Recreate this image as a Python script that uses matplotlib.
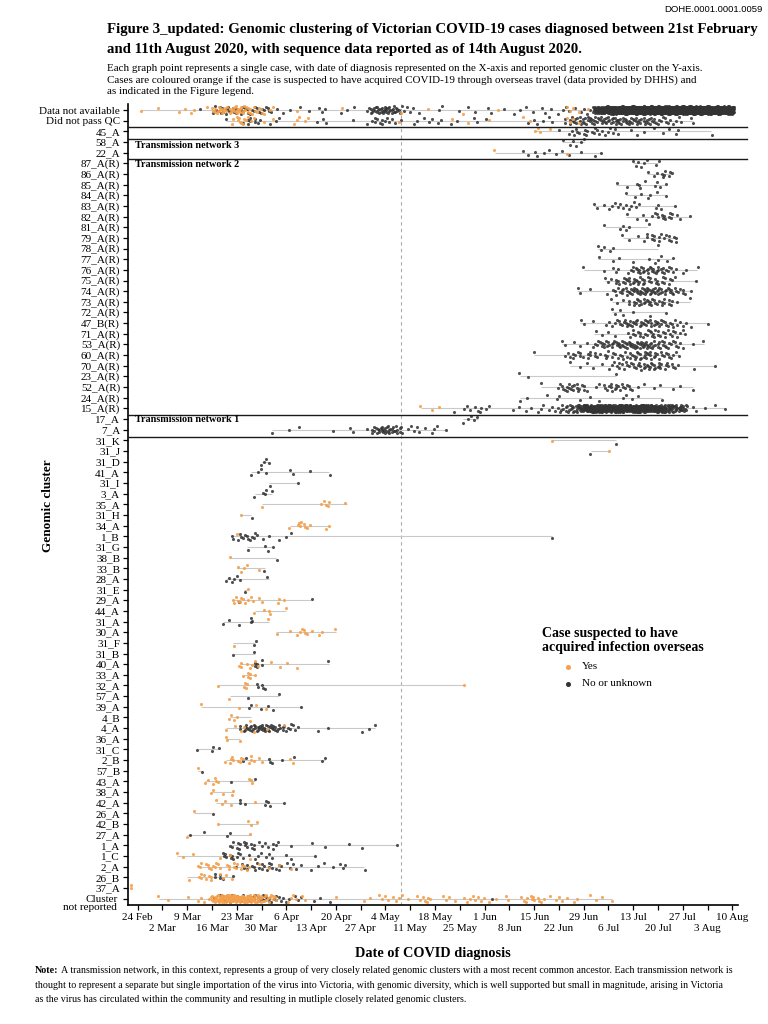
import numpy as np
import matplotlib
matplotlib.use("Agg")
import matplotlib.pyplot as plt
import matplotlib.dates as mdates
from matplotlib.lines import Line2D
import datetime as dt

plt.rcParams['font.family'] = ['Liberation Serif', 'DejaVu Serif']


def daily(first, counts):
    # expand "cases per day" counts starting at day `first`
    out = []
    for k, c in enumerate(counts):
        out += [first + k] * c
    return out


# days are counted from 24 Feb 2020 (day 0)
day0 = dt.date(2020, 2, 24)

# ---- top rows (unassigned + transmission network 3) ----
top_names = ["Data not available", "Did not pass QC", "45_A", "58_A", "22_A"]
top_yes = [
    [1, 6, 12, 13, 15, 16] + daily(20, [1, 2, 3, 4, 4, 3, 3, 4, 5, 4, 4, 3, 3, 2, 2, 2, 1, 1, 1])
    + [45, 58, 74, 82, 92, 102, 121, 122, 123, 125, 127],
    daily(27, [2, 2, 3, 2, 2, 1, 1]) + [36, 38, 44, 45, 46, 47, 48, 74, 89, 93, 99, 109, 111, 121, 122, 123, 125],
    [112, 113, 114, 116],
    [],
    [101, 121],
]
top_no = [
    [18] + daily(20, [0, 1, 2, 2, 3, 2, 2, 2, 2, 2, 3, 2, 2, 2, 2, 2, 2, 2, 1, 1])
    + [41, 43, 46, 48, 51, 52, 53, 57, 59, 61]
    + daily(65, [2, 3, 4, 5, 5, 6, 5, 5, 4, 2, 2, 1])
    + [77, 78, 79, 85, 86, 91, 93, 95, 99, 100, 103, 106, 108, 110, 112, 114, 115, 117, 119,
       120, 121, 122, 124, 125, 126, 127, 128]
    + daily(129, [10, 12, 14, 16, 18, 20, 22, 24, 26, 28, 30, 32, 34, 36, 38, 40, 40, 40, 40, 40,
                  40, 40, 40, 40, 40, 40, 40, 40, 40, 40, 38, 36, 34, 34, 34, 32, 30, 30, 28, 26]),
    [25] + daily(30, [1, 2, 2, 2, 1]) + [35, 37, 39, 40, 51, 52, 53, 61]
    + daily(65, [1, 1, 2, 2, 2, 2, 1, 1, 1, 1])
    + [78, 79, 81, 82, 83, 85, 86, 88, 90, 95, 96, 98, 110, 112, 113, 115, 116, 117]
    + daily(121, [2, 2, 3, 3, 3, 4, 3, 4, 4, 3, 4, 4, 3, 4, 4, 4, 3, 4, 4, 3,
                  4, 3, 3, 4, 3, 3, 2, 2, 2, 2, 1, 1, 1, 1, 0, 1]) + [157],
    [119] + daily(122, [1, 2, 2, 1, 2, 2, 1, 2, 2, 1, 1, 2, 1, 1, 1])
    + [139, 141, 143, 146, 148, 150, 152, 153, 162],
    [120, 122, 123, 124, 125, 126],
    [109, 110, 112, 113, 115, 116, 118, 120, 122, 125, 129, 131],
]

# ---- transmission network 2 ----
net2_names = ["87_A(R)", "86_A(R)", "85_A(R)", "84_A(R)", "83_A(R)", "82_A(R)", "81_A(R)",
              "79_A(R)", "78_A(R)", "77_A(R)", "76_A(R)", "75_A(R)", "74_A(R)", "73_A(R)",
              "72_A(R)", "47_B(R)", "71_A(R)", "53_A(R)", "60_A(R)", "70_A(R)", "23_A(R)",
              "52_A(R)", "24_A(R)", "15_A(R)"]
r15_yes = [80, 83, 85]
net2_no = [
    [140, 141, 141, 142, 143, 144, 146, 147],
    [144, 146, 147, 148, 148, 149, 149, 150, 150, 151],
    [135, 138, 141, 142, 142, 143, 146, 147, 148, 149],
    [138, 141, 142, 144, 145, 147, 149],
    [129, 130, 132, 133, 134, 135, 136, 136, 137, 138, 139, 139, 140, 141, 142, 146, 147, 148, 152],
    [138, 141, 143, 144, 145, 146, 147, 147, 148, 148, 149, 149, 150, 150, 151, 151, 152, 153, 156],
    [132, 136, 137, 138, 139, 144],
    [137, 139, 141, 143, 144, 144, 145, 145, 146, 146, 147, 147, 148, 149, 149, 150, 150, 151, 151, 152, 152],
    [130, 131, 132, 133, 134, 147],
    [130, 134, 136, 140, 144, 146, 147, 148, 150, 151],
    [126, 132, 134, 135, 136] + daily(139, [2, 2, 3, 3, 3, 3, 3, 3, 3, 3, 2, 2, 2, 1]) + [154, 155, 158],
    [132] + daily(133, [1, 1, 2, 2, 2, 3, 3, 3, 3, 3, 3, 2, 2, 2, 2, 2, 2, 2, 1, 1]) + [158],
    [124, 125, 128] + daily(133, [1, 1, 2, 2, 3, 3, 3, 4, 4, 4, 4, 4, 4, 4, 4, 3, 3, 3, 3, 2, 2, 2, 1, 1]),
    [134, 135, 137] + daily(139, [2, 2, 3, 3, 3, 3, 3, 2, 2, 2, 2, 2, 2, 1]) + [156],
    [134, 135, 136, 137, 140, 145, 149],
    [125, 126, 129] + daily(132, [1, 1, 1, 2, 2, 2, 3, 3, 3, 3, 3, 3, 3, 3, 3, 3, 3, 2, 2, 2, 2, 1, 1, 1, 1]) + [161],
    [129, 131, 133, 135] + daily(138, [1, 1, 2, 2, 2, 2, 2, 3, 3, 2, 2, 2, 2, 2, 2, 1, 1, 1]),
    [120, 121, 123, 125, 127] + daily(129, [2, 2, 3, 3, 3, 3, 3, 4, 4, 4, 4, 4, 4, 4, 4, 4, 4, 3, 3, 3,
                                            3, 2, 2, 2, 2, 1]) + [157, 160],
    [112] + daily(121, [1, 2, 2, 2, 2, 1, 2, 2, 2, 1, 1, 2, 2, 2, 1, 2, 2, 2, 2, 3, 3, 3, 3, 3, 3, 3,
                        2, 2, 2, 2, 2, 1, 1]),
    [122, 125, 127, 129, 131] + daily(133, [1, 1, 2, 2, 2, 2, 2, 2, 2, 3, 3, 3, 3, 3, 3, 2, 2, 2, 2, 1, 1])
    + [157, 163],
    [108, 110, 135],
    [114] + daily(119, [2, 2, 3, 3, 3, 3, 2, 2, 1]) + [129, 130]
    + daily(132, [2, 2, 3, 3, 2, 2, 2, 2, 1, 1]) + [143, 146, 148, 151, 153, 157],
    [108, 110, 116, 118, 119, 125, 128, 130, 137, 138, 140, 141, 148],
    [89, 92, 93, 94, 95, 96, 97, 97, 98, 99, 106, 108, 110, 111, 113, 114, 115, 116, 117, 118]
    + daily(119, [2, 3, 3, 4, 5, 6, 8, 10, 12, 14, 15, 16, 16, 16, 16, 16, 16, 16, 16, 16,
                  16, 15, 15, 14, 14, 13, 12, 12, 11, 10, 10, 9, 8, 7, 6, 5, 4])
    + [157, 158, 160, 163, 166],
]

# ---- transmission network 1 ----
net1_names = ["17_A", "7_A"]
net1_no = [
    [92, 93, 94, 95, 96],
    [38, 43, 46, 55, 60, 61, 65] + daily(66, [2, 3, 4, 5, 5, 5, 4, 4, 3])
    + [75, 76, 77, 78, 79, 80, 81, 83, 84, 85, 87],
]

# ---- other genomic clusters ----
other_names = ["31_K", "31_J", "31_D", "41_A", "31_I", "3_A", "35_A", "31_H", "34_A", "1_B",
               "31_G", "38_B", "33_B", "28_A", "31_E", "29_A", "44_A", "31_A", "30_A", "31_F",
               "31_B", "40_A", "33_A", "32_A", "57_A", "39_A", "4_B", "4_A", "36_A", "31_C",
               "2_B", "57_B", "43_A", "38_A", "42_A", "26_A", "42_B", "27_A", "1_A", "1_C",
               "2_A", "26_B", "37_A"]
other_yes = [
    [117], [133], [], [], [], [],
    [35, 52, 53, 53, 54, 54, 59],
    [29],
    [43, 45, 46, 46, 46, 47, 47, 48, 49, 53, 54],
    [28], [], [26],
    [28, 29, 30, 31, 34],
    [], [31],
    [27, 27, 28, 28, 29, 29, 30, 30, 31, 32, 33, 34, 35, 40, 40, 41],
    [33, 36, 37, 37, 42],
    [37],
    [39, 43, 45, 46, 46, 47, 47, 48, 49, 51, 52, 56],
    [27], [],
    [29, 29, 29, 31, 32, 32, 33, 34, 38, 40, 42, 45],
    [30, 31, 31, 32, 32, 33],
    [23, 30, 30, 31, 31, 92],
    [26],
    [18, 29, 33, 36],
    [26, 26, 27, 28, 32],
    [25, 28, 29, 30, 33, 37, 41],
    [25, 25, 29],
    [],
    [25, 26, 26, 27, 27, 28, 29, 29, 30, 31, 32, 32, 33, 34, 35, 43, 44],
    [17],
    [19, 20, 21, 22, 22, 23, 31, 32, 32],
    [21, 21, 24, 27, 27],
    [22, 24, 25, 26, 33],
    [16],
    [23, 31, 32, 34],
    [14, 32],
    [],
    [11, 13, 16, 23, 26, 32],
    [17, 18, 18, 19, 20, 20, 21, 21, 22, 22, 23, 23, 25, 26, 26, 27, 27, 28, 28, 29, 29, 30, 31, 31,
     34, 37, 40, 43],
    [14, 17, 18, 18, 19, 19, 20, 21, 21, 23, 24, 25, 27],
    [-2, -2],
]
other_no = [
    [135], [128],
    [35, 36, 36, 37],
    [32, 34, 35, 36, 43, 44, 49, 54],
    [37, 45],
    [33, 35, 36, 36, 38],
    [], [32], [],
    [27, 27, 28, 29, 29, 30, 30, 31, 31, 32, 32, 33, 33, 34, 35, 37, 40, 42, 43, 117],
    [31, 36, 37, 38],
    [39], [36],
    [25, 26, 27, 27, 28, 29, 37],
    [30],
    [29, 49],
    [],
    [24, 26, 29, 32, 32, 32],
    [],
    [33, 33],
    [27, 33],
    [33, 33, 34, 34, 35, 35, 54],
    [],
    [34, 34, 35, 35, 36],
    [31, 40],
    [31, 32, 35, 37, 38, 46],
    [],
    daily(29, [2, 3, 3, 4, 4, 4, 5, 4, 4, 4, 3, 3, 3, 2, 2, 2, 1]) + [51, 54, 63, 65, 67],
    [],
    [17, 21, 21, 23],
    [30, 31, 37, 37, 38, 41, 44, 52, 53],
    [18],
    [26, 33],
    [],
    [29, 29, 30, 36, 36, 37, 37, 41],
    [21],
    [],
    [15, 19, 25, 26],
    [26, 27, 27, 28, 28, 29, 29, 30, 30, 31, 31, 32, 32, 33, 33, 34, 35, 36, 37, 38, 38, 39, 40,
     43, 49, 53, 60, 63, 73],
    [24, 24, 25, 25, 26, 26, 27, 27, 28, 28, 29, 30, 31, 33, 34, 35, 36, 37, 38, 42, 43, 50],
    [28, 29, 30, 31, 31, 32, 33, 33, 34, 34, 35, 35, 36, 36, 37, 37, 38, 38, 39, 40, 40, 41, 42,
     43, 44, 45, 46, 49, 51, 53, 55, 57, 58, 59, 64],
    [22, 22, 23, 23, 24, 27],
    [],
]

# ---- cluster not reported ----
unrep_yes = ([6, 9, 14, 17, 18, 19, 20]
             + daily(21, [4, 6, 8, 9, 10, 10, 10, 10, 10, 9, 9, 8, 7, 6, 5, 4, 3, 3, 2])
             + [42, 43, 44, 45, 46, 47, 56, 64, 66, 68, 69, 70, 71, 72, 73, 74, 75, 76, 79, 80, 81,
                81, 82, 82, 83, 86, 87, 88, 90, 92, 93, 94, 95, 95, 96, 97, 98, 99, 101, 104, 105,
                108, 109, 110, 110, 111, 111, 112, 112, 113, 113, 114, 115, 116, 118, 119, 120,
                121, 123, 124, 128, 130, 131, 134])
unrep_no = daily(22, [1, 1, 2, 2, 2, 2, 2, 2, 2, 3, 3, 3, 3, 3, 3, 2, 2, 2, 2, 1, 1, 1, 1, 1, 1]) + [50, 52, 54, 100]

names = top_names + net2_names + net1_names + other_names + ["Cluster\nnot reported"]
yes_rows = (top_yes + [r15_yes if n == "15_A(R)" else [] for n in net2_names]
            + [[], []] + other_yes + [unrep_yes])
no_rows = top_no + net2_no + net1_no + other_no + [unrep_no]

# separator lines and network labels (in row units)
sep_lines = [1.63, 2.70, 4.58, 28.6, 30.67]
net_labels = [("Transmission network 3", 3.29), ("Transmission network 2", 5.08),
              ("Transmission network 1", 29.07)]

ORANGE = "#F5A04B"
DARK = "#333333"

fig = plt.figure(figsize=(7.68, 10.24), dpi=100)
ax = fig.add_axes([0.1663, 0.1162, 0.7947, 0.7826])
base = mdates.date2num(day0)

g1, g2 = 0.7548776662, 0.5698402910
xy_yes, xy_no = [], []
for r, (ys, ns) in enumerate(zip(yes_rows, no_rows)):
    allx = np.array(ns + ys, dtype=float)
    if len(allx) == 0:
        continue
    i = np.arange(len(allx)) + r * 7
    jx = ((i * g1) % 1 - 0.5) * 0.8
    jy = ((i * g2 + 0.3) % 1 - 0.5) * 0.7
    px = base + allx + jx
    py = r + jy
    ax.hlines(r, base + allx.min(), base + allx.max(), color="#c9c9c9", lw=0.8, zorder=1)
    k = len(ns)
    xy_no.append(np.column_stack([px[:k], py[:k]]))
    xy_yes.append(np.column_stack([px[k:], py[k:]]))

xy_no = np.vstack(xy_no)
xy_yes = np.vstack(xy_yes)
ax.scatter(xy_no[:, 0], xy_no[:, 1], s=5, color=DARK, alpha=0.85, linewidths=0, zorder=3)
ax.scatter(xy_yes[:, 0], xy_yes[:, 1], s=5, color=ORANGE, alpha=0.9, linewidths=0, zorder=3)

xlo, xhi = base - 2.82, base + 169.6
ax.set_xlim(xlo, xhi)
ax.set_ylim(len(names) - 1 + 0.6, -0.6)

# separators run a little past the panel on the right
for yv in sep_lines:
    ax.plot([xlo, base + 172.1], [yv, yv], color="#1a1a1a", lw=1.0, clip_on=False, zorder=4)
for txt, yv in net_labels:
    ax.text(base - 0.76, yv, txt, fontsize=7.3, weight="bold", va="center", ha="left", zorder=5)

# dashed reference line (8 May)
ax.axvline(base + 74.3, color="#aaaaaa", lw=0.8, ls=(0, (3, 3)), zorder=0)

# y tick labels; the two-line bottom one is drawn separately, a touch lower
ax.set_yticks(range(len(names)))
ax.set_yticklabels(names[:-1] + [""], fontsize=8)
ax.annotate(names[-1], xy=(0, len(names) - 1), xycoords=ax.get_yaxis_transform(),
            xytext=(-7.5, -3.5), textcoords="offset points", ha="right", va="center",
            fontsize=8, linespacing=0.9, annotation_clip=False)


def date_label(k):
    d = day0 + dt.timedelta(days=7 * k)
    return f"{d.day} {d.strftime('%b')}"


# weekly ticks, labels alternate between two rows
ax.set_xticks([base + 7 * k for k in range(0, 25, 2)])
ax.set_xticklabels([date_label(k) for k in range(0, 25, 2)], fontsize=8)
ax.set_xticks([base + 7 * k for k in range(1, 25, 2)], minor=True)
ax.set_xticklabels([date_label(k) for k in range(1, 25, 2)], minor=True, fontsize=8)

for s in ["top", "right"]:
    ax.spines[s].set_visible(False)
for s in ["left", "bottom"]:
    ax.spines[s].set_linewidth(1.2)
ax.tick_params(axis="both", which="both", length=3.5, width=0.9, pad=2)
ax.tick_params(axis="x", which="minor", pad=10.5)

ax.set_xlabel("Date of COVID diagnosis", fontsize=10.3, weight="bold", labelpad=10)
fig.text(48 / 768, 1 - 506 / 1024, "Genomic cluster", rotation=90, fontsize=9.5,
         weight="bold", ha="center", va="center")

# legend drawn by hand
fig.text(542 / 768, 1 - 640.5 / 1024, "Case suspected to have\nacquired infection overseas",
         fontsize=10, weight="bold", ha="left", va="center", linespacing=1.0)
for yy, col, lab in [(666.7, ORANGE, "Yes"), (683.7, DARK, "No or unknown")]:
    fig.add_artist(Line2D([568 / 768], [1 - yy / 1024], marker="o", ms=2.6, color=col,
                          ls="none", transform=fig.transFigure))
    fig.text(582 / 768, 1 - yy / 1024, lab, fontsize=8, ha="left", va="center")

# header, title, subtitle
fig.text(763 / 768, 1 - 10 / 1024, "DOHE.0001.0001.0059", family=["Liberation Sans", "DejaVu Sans"],
         fontsize=6.8, ha="right", va="center")
fig.text(107 / 768, 1 - 30 / 1024,
         "Figure 3_updated: Genomic clustering of Victorian COVID-19 cases diagnosed between 21st February",
         fontsize=10.7, weight="bold", va="center")
fig.text(107 / 768, 1 - 49 / 1024,
         "and 11th August 2020, with sequence data reported as of 14th August 2020.",
         fontsize=10.7, weight="bold", va="center")
sub = ["Each graph point represents a single case, with date of diagnosis represented on the X-axis and reported genomic cluster on the Y-axis.",
       "Cases are coloured orange if the case is suspected to have acquired COVID-19 through overseas travel (data provided by DHHS) and",
       "as indicated in the Figure legend."]
for yy, line in zip([68, 80, 91], sub):
    fig.text(107 / 768, 1 - yy / 1024, line, fontsize=7.9, va="center")

# note at the bottom
note = ["A transmission network, in this context, represents a group of very closely related genomic clusters with a most recent common ancestor. Each transmission network is",
        "thought to represent a separate but single importation of the virus into Victoria, with genomic diversity, which is well supported but small in magnitude, arising in Victoria",
        "as the virus has circulated within the community and resulting in mutliple closely related genomic clusters."]
rend = fig.canvas.get_renderer()
t = fig.text(35 / 768, 1 - 973 / 1024, "Note:", fontsize=7.2, weight="bold", va="baseline")
x_after = t.get_window_extent(renderer=rend).x1 / fig.bbox.width + 0.003
fig.text(x_after, 1 - 973 / 1024, note[0], fontsize=7.2, va="baseline")
fig.text(35 / 768, 1 - 988 / 1024, note[1], fontsize=7.2, va="baseline")
fig.text(35 / 768, 1 - 1002 / 1024, note[2], fontsize=7.2, va="baseline")

fig.savefig("out.png", dpi=100)
